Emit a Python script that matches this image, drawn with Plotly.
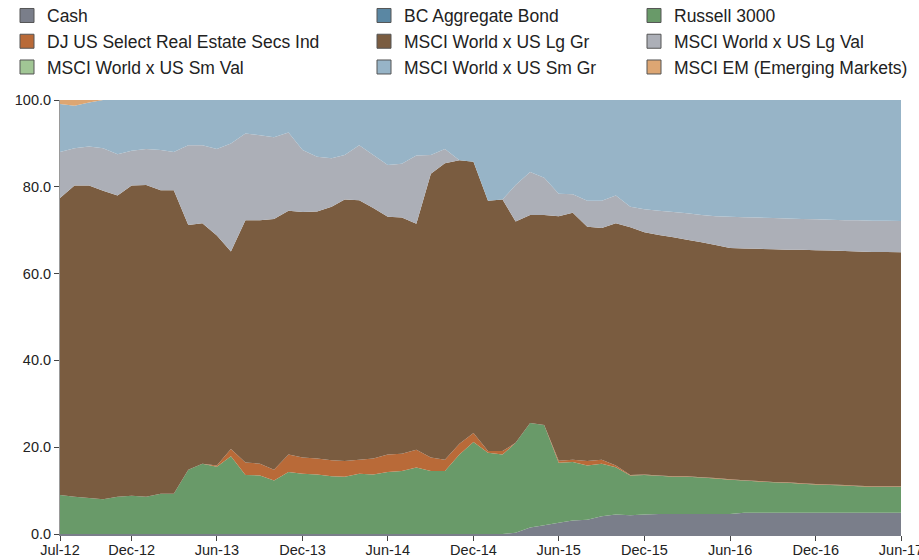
import plotly.graph_objects as go
import pandas as pd

months = pd.date_range("2012-07-01", periods=60, freq="MS")

tick_dates = ["2012-07-01", "2012-12-01", "2013-06-01", "2013-12-01", "2014-06-01",
              "2014-12-01", "2015-06-01", "2015-12-01", "2016-06-01", "2016-12-01", "2017-06-01"]
tick_labels = ["Jul-12", "Dec-12", "Jun-13", "Dec-13", "Jun-14", "Dec-14",
               "Jun-15", "Dec-15", "Jun-16", "Dec-16", "Jun-17"]

cash = [0]*32 + [0.3, 1.5, 2.0, 2.6, 3.1, 3.3, 4.1, 4.5, 4.3, 4.5, 4.6, 4.6, 4.6, 4.6,
                 4.6, 4.6, 4.9, 4.9, 4.9, 4.9, 4.9, 4.9, 4.9, 4.9, 4.9, 4.9, 4.9, 4.9]
bc_agg = [0]*60
russell = [9.0, 8.6, 8.3, 8.0, 8.6, 8.8, 8.6, 9.3, 9.3, 14.8,
           16.2, 15.5, 17.9, 13.6, 13.5, 12.3, 14.3, 13.9, 13.7, 13.3,
           13.2, 13.9, 13.7, 14.3, 14.5, 15.3, 14.5, 14.5, 18.3, 21.2,
           18.7, 18.3, 20.7, 24.1, 23.1, 13.8, 13.5, 12.5, 12.1, 10.9,
           9.2, 9.1, 8.8, 8.6, 8.6, 8.4, 8.2, 7.9, 7.4, 7.2,
           7.0, 6.9, 6.7, 6.5, 6.4, 6.3, 6.1, 6.0, 6.0, 6.0]
dj_re = [0, 0, 0, 0, 0, 0, 0, 0, 0, 0,
         0, 0.3, 1.7, 2.9, 2.7, 2.5, 4.0, 3.7, 3.7, 3.7,
         3.6, 3.2, 3.7, 4.0, 4.0, 4.1, 3.1, 2.6, 2.5, 2.1,
         0.4, 0.8, 0, 0, 0, 0.5, 0.5, 1.0, 0.9, 0.4,
         0.1, 0.1, 0.1, 0.1, 0.1, 0.1, 0.1, 0.1, 0.1, 0.1,
         0.1, 0.1, 0.1, 0.1, 0.1, 0.1, 0.1, 0.1, 0.1, 0.1]
lg_gr = [68.4, 71.7, 72.0, 71.1, 69.4, 71.5, 71.8, 69.9, 69.9, 56.4,
         55.4, 53.0, 45.5, 55.8, 56.1, 57.8, 56.2, 56.6, 56.9, 58.4,
         60.3, 59.8, 57.7, 54.8, 54.4, 52.1, 65.4, 68.3, 65.3, 62.5,
         57.7, 58.0, 51.0, 47.9, 48.4, 56.3, 56.9, 54.0, 53.4, 55.8,
         57.1, 55.8, 55.4, 55.1, 54.5, 54.1, 53.7, 53.3, 53.4, 53.5,
         53.6, 53.6, 53.8, 53.9, 53.9, 53.9, 54.0, 54.0, 54.0, 53.9]
lg_val = [10.6, 8.6, 9.0, 9.8, 9.5, 8.0, 8.3, 9.3, 8.8, 18.4,
          18.0, 19.9, 24.9, 20.0, 19.6, 18.8, 18.0, 14.3, 12.6, 11.2,
          10.2, 12.7, 12.2, 11.9, 12.4, 15.7, 4.3, 3.3, 0, 0,
          0, 0, 8.4, 9.9, 8.6, 5.2, 4.3, 6.0, 6.3, 6.4,
          4.7, 5.3, 5.6, 5.8, 6.1, 6.3, 6.6, 7.2, 7.2, 7.2,
          7.2, 7.2, 7.1, 7.1, 7.1, 7.1, 7.2, 7.2, 7.2, 7.2]
sm_val = [0]*60
sm_gr = [11.1, 9.8, 10.1, 11.1, 12.5, 11.7, 11.3, 11.5, 12.0, 10.4,
         10.4, 11.3, 10.0, 7.7, 8.1, 8.6, 7.5, 11.5, 13.1, 13.4,
         12.7, 10.4, 12.7, 15.0, 14.7, 12.8, 12.7, 11.3, 13.9, 14.2,
         23.2, 22.9, 19.6, 16.6, 17.9, 21.6, 21.7, 23.2, 23.2, 22.0,
         24.6, 25.2, 25.5, 25.8, 26.1, 26.5, 26.8, 26.9, 27.0, 27.1,
         27.2, 27.3, 27.4, 27.5, 27.6, 27.7, 27.7, 27.8, 27.8, 27.9]
em = [0.9, 1.3, 0.6] + [0]*57

series_names = ["Cash", "BC Aggregate Bond", "Russell 3000", "DJ US Select Real Estate Secs Ind",
                "MSCI World x US Lg Gr", "MSCI World x US Lg Val", "MSCI World x US Sm Val",
                "MSCI World x US Sm Gr", "MSCI EM (Emerging Markets)"]
series_values = [cash, bc_agg, russell, dj_re, lg_gr, lg_val, sm_val, sm_gr, em]
colors = ["#7a7e8a", "#5a87a3", "#699a69", "#b96a38", "#7a5c40",
          "#acafb7", "#a1c695", "#97b4c7", "#dda673"]

legend_ids = ["legend", "legend2", "legend3"]

fig = go.Figure()
for name, vals, col in zip(series_names, series_values, colors):
    fig.add_trace(go.Scatter(
        x=months, y=vals, name=name, stackgroup="one", mode="none",
        fillcolor=col, line=dict(width=0), showlegend=False, hoverinfo="x+y+name"))

for i, (name, col) in enumerate(zip(series_names, colors)):
    fig.add_trace(go.Scatter(
        x=[None], y=[None], name=name, mode="markers",
        marker=dict(symbol="square", size=14, color=col, line=dict(color="#555555", width=1)),
        legend=legend_ids[i % 3], showlegend=True))

# body margin removed below, so figure coords = screen coords
ML, MR, MT, MB = 60, 18, 100, 25.5
W = 919 - ML - MR
H = 560 - MT - MB
legend_top = -2.5
font_family = "Liberation Sans, Arial, sans-serif"
legend_common = dict(orientation="v", yanchor="top", y=1 + (MT - legend_top) / H, xanchor="left",
                     traceorder="normal",
                     font=dict(family=font_family, size=17.5, color="#222222"),
                     bgcolor="rgba(0,0,0,0)", tracegroupgap=0, itemwidth=30)
fig.update_layout(
    width=919, height=560,
    template="none",
    margin=dict(l=ML, r=MR, t=MT, b=MB, autoexpand=False),
    paper_bgcolor="white", plot_bgcolor="white",
    font=dict(family=font_family, size=14.5, color="#222222"),
    legend=dict(legend_common, x=(7 - ML) / W),
    legend2=dict(legend_common, x=(364 - ML) / W),
    legend3=dict(legend_common, x=(634 - ML) / W),
    xaxis=dict(type="date", range=["2012-07-01", "2017-06-01"], tickvals=tick_dates,
               ticktext=tick_labels, showgrid=False, zeroline=False, showline=True,
               linecolor="#7a7e8a", linewidth=2, ticks="outside", ticklen=5, tickcolor="#444444",
               ticklabelstandoff=-3, ticklabeloverflow="allow", automargin=False,
               tickfont=dict(size=14.5)),
    yaxis=dict(range=[0, 100], tickvals=[0, 20, 40, 60, 80, 100], tickformat=".1f",
               showgrid=False, zeroline=False, showline=True, linecolor="#999999", linewidth=1,
               ticks="outside", ticklen=5, tickcolor="#444444", automargin=False,
               tickfont=dict(size=14.5)),
)

fig.write_html("out.html", config={"displayModeBar": False},
               post_script="document.body.style.margin='0';")
